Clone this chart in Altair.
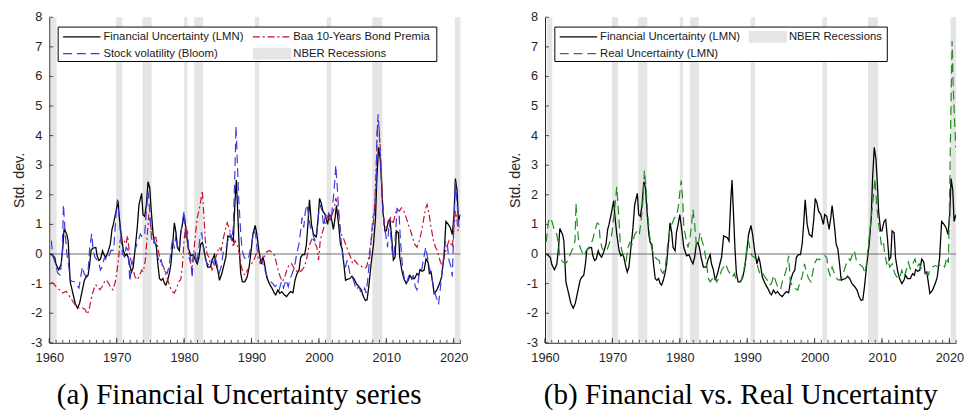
import altair as alt
import pandas as pd

fu_year = [1960.17, 1960.5, 1960.8, 1961.0, 1961.4, 1961.75, 1962.0, 1962.2, 1962.6, 1962.8,
           1963.1, 1963.5, 1963.85, 1964.2, 1964.5, 1964.8, 1965.2, 1965.4, 1965.75, 1966.0,
           1966.2, 1966.5, 1966.9, 1967.1, 1967.35, 1967.6, 1967.9, 1968.1, 1968.4, 1968.7,
           1969.05, 1969.3, 1969.5, 1969.9, 1970.2, 1970.35, 1970.65, 1971.0, 1971.25, 1971.5,
           1971.7, 1971.95, 1972.2, 1972.45, 1972.7, 1973.05, 1973.3, 1973.7, 1973.9, 1974.15,
           1974.4, 1974.65, 1974.9, 1975.1, 1975.4, 1975.6, 1975.85, 1976.1, 1976.35, 1976.6,
           1976.85, 1977.1, 1977.3, 1977.55, 1977.8, 1978.05, 1978.3, 1978.55, 1978.8, 1979.0,
           1979.3, 1979.5, 1979.75, 1980.0, 1980.25, 1980.6, 1981.0, 1981.35, 1981.7, 1981.95,
           1982.2, 1982.45, 1982.7, 1982.9, 1983.15, 1983.5, 1983.9, 1984.15, 1984.5, 1984.7,
           1985.0, 1985.25, 1985.6, 1985.95, 1986.2, 1986.5, 1986.8, 1987.05, 1987.3, 1987.55,
           1987.75, 1987.95, 1988.2, 1988.4, 1988.65, 1989.0, 1989.35, 1989.65, 1990.0, 1990.2,
           1990.55, 1990.8, 1991.1, 1991.45, 1991.7, 1991.9, 1992.25, 1992.65, 1993.05, 1993.4,
           1993.6, 1993.9, 1994.2, 1994.5, 1994.85, 1995.2, 1995.5, 1995.8, 1996.15, 1996.45,
           1996.75, 1997.05, 1997.3, 1997.6, 1997.9, 1998.15, 1998.4, 1998.6, 1998.9, 1999.2,
           1999.6, 1999.85, 2000.1, 2000.35, 2000.6, 2000.9, 2001.3, 2001.5, 2001.8, 2002.15,
           2002.4, 2002.6, 2002.95, 2003.2, 2003.45, 2003.7, 2003.95, 2004.2, 2004.6, 2004.9,
           2005.2, 2005.55, 2005.9, 2006.3, 2006.6, 2006.9, 2007.15, 2007.4, 2007.75, 2008.1,
           2008.4, 2008.6, 2008.85, 2009.1, 2009.3, 2009.5, 2009.8, 2010.0, 2010.3, 2010.55,
           2010.8, 2011.05, 2011.3, 2011.5, 2011.8, 2012.0, 2012.3, 2012.6, 2012.95, 2013.25,
           2013.5, 2013.8, 2014.2, 2014.55, 2014.8, 2015.0, 2015.3, 2015.6, 2015.9, 2016.2,
           2016.4, 2016.65, 2016.9, 2017.1, 2017.5, 2017.9, 2018.2, 2018.55, 2018.85, 2019.2,
           2019.5, 2019.8, 2020.05, 2020.25, 2020.5, 2020.7, 2020.9, 2021.0]
fu_val = [0.0, -0.05, -0.12, -0.35, -0.53, -0.35, 0.2, 0.86, 0.66, 0.44,
          -0.94, -1.33, -1.68, -1.83, -1.66, -1.33, -0.89, -0.8, -0.72, -0.33,
          0.13, 0.2, 0.22, -0.06, -0.22, -0.17, 0.11, -0.02, -0.11, 0.06,
          0.33, 0.83, 1.0, 1.44, 1.8, 1.33, 0.66, 0.11, -0.06, 0.0,
          -0.11, -0.39, -0.61, -0.44, 0.11, 0.89, 1.66, 2.05, 1.33, 1.27,
          1.66, 2.44, 2.24, 1.55, 0.66, 0.39, 0.33, -0.33, -0.83, -0.89,
          -0.83, -1.0, -1.05, -0.89, -0.66, -0.33, 0.33, 1.05, 0.72, 0.22,
          0.11, 0.72, 1.0, 1.33, 0.89, 0.22, -0.06, -0.02, -0.22, -0.33,
          -0.11, 0.33, 0.39, 0.22, -0.11, -0.44, -0.44, -0.22, -0.02, -0.33,
          -0.55, -0.89, -0.66, -0.33, -0.11, 0.61, 0.58, 0.55, 0.44, 1.77,
          2.5, 1.44, 0.11, -0.66, -0.94, -0.94, -0.78, -0.44, 0.22, 0.66,
          0.97, 0.66, 0.11, -0.33, -0.11, -0.28, -0.78, -1.0, -1.16, -1.33,
          -1.38, -1.22, -1.33, -1.27, -1.38, -1.44, -1.35, -1.27, -1.31, -0.89,
          -0.66, -0.55, -0.11, -0.02, -0.02, 0.33, 1.1, 1.83, 1.0, 0.66,
          0.58, 1.1, 1.88, 1.72, 1.44, 1.35, 1.0, 1.33, 1.27, 0.83,
          1.22, 1.64, 0.94, 0.33, 0.17, -0.33, -0.89, -0.86, -0.83, -0.75,
          -0.83, -1.0, -1.09, -1.22, -1.44, -1.57, -1.55, -1.11, -0.33, 0.33,
          1.22, 2.55, 3.6, 3.21, 2.44, 1.44, 0.78, 0.78, 1.1, 1.16,
          0.55, -0.2, -0.11, 0.78, 0.72, -0.11, -0.55, -0.83, -1.0, -0.89,
          -0.72, -0.83, -0.83, -0.66, -0.72, -0.53, -0.58, -0.55, -0.17, -0.28,
          -0.66, -0.61, -1.0, -1.33, -1.22, -1.0, -0.78, -0.11, 1.1, 1.0,
          0.89, 0.66, 1.33, 2.55, 2.16, 1.1, 1.27, 1.33]

ru_year = [1960.17, 1960.5, 1960.8, 1961.1, 1961.4, 1961.75, 1962.0, 1962.2, 1962.5, 1962.7,
           1963.1, 1963.45, 1963.85, 1964.2, 1964.45, 1964.6, 1964.8, 1965.05, 1965.4, 1965.8,
           1966.1, 1966.5, 1966.85, 1967.15, 1967.45, 1967.75, 1968.0, 1968.2, 1968.45, 1968.8,
           1969.15, 1969.5, 1969.9, 1970.3, 1970.65, 1970.9, 1971.15, 1971.4, 1971.7, 1972.05,
           1972.3, 1972.6, 1972.95, 1973.3, 1973.7, 1974.0, 1974.3, 1974.55, 1974.75, 1975.0,
           1975.25, 1975.5, 1975.8, 1976.1, 1976.35, 1976.6, 1976.95, 1977.2, 1977.5, 1977.7,
           1977.9, 1978.15, 1978.45, 1978.8, 1979.2, 1979.5, 1979.75, 1980.2, 1980.45, 1980.6,
           1980.9, 1981.2, 1981.45, 1981.7, 1981.95, 1982.2, 1982.45, 1982.7, 1983.0, 1983.3,
           1983.6, 1983.9, 1984.25, 1984.5, 1984.85, 1985.2, 1985.5, 1985.85, 1986.2, 1986.5,
           1986.8, 1987.15, 1987.45, 1987.8, 1988.1, 1988.4, 1988.75, 1989.1, 1989.4, 1989.75,
           1990.0, 1990.2, 1990.45, 1990.7, 1991.05, 1991.35, 1991.7, 1992.0, 1992.3, 1992.65,
           1993.0, 1993.3, 1993.6, 1993.95, 1994.25, 1994.6, 1994.95, 1995.25, 1995.55, 1995.9,
           1996.15, 1996.4, 1996.8, 1997.1, 1997.5, 1997.85, 1998.15, 1998.5, 1998.85, 1999.1,
           1999.45, 1999.7, 1999.95, 2000.35, 2000.7, 2001.2, 2001.5, 2001.8, 2002.05, 2002.3,
           2002.6, 2002.95, 2003.3, 2003.6, 2003.95, 2004.3, 2004.7, 2005.1, 2005.3, 2005.65,
           2005.9, 2006.2, 2006.5, 2006.9, 2007.15, 2007.5, 2007.75, 2008.0, 2008.25, 2008.5,
           2008.7, 2008.95, 2009.2, 2009.45, 2009.7, 2009.9, 2010.2, 2010.4, 2010.7, 2010.9,
           2011.15, 2011.5, 2011.9, 2012.2, 2012.6, 2012.95, 2013.25, 2013.6, 2013.9, 2014.2,
           2014.55, 2014.9, 2015.2, 2015.5, 2015.85, 2016.2, 2016.5, 2016.85, 2017.1, 2017.5,
           2017.9, 2018.2, 2018.55, 2018.9, 2019.3, 2019.6, 2019.85, 2020.0, 2020.2, 2020.4,
           2020.55, 2020.75, 2020.95]
ru_val = [0.4, 1.1, 1.22, 1.05, 0.78, 0.66, 0.33, -0.11, -0.22, -0.28,
          -0.31, -0.2, 0.06, 0.22, 0.44, 1.72, 0.89, 0.33, 0.11, -0.06,
          0.11, 0.22, 0.33, 0.55, 0.83, 1.05, 1.0, 0.44, 0.22, 0.06,
          0.11, 0.33, 0.66, 1.44, 2.27, 1.44, 0.44, 0.11, -0.11, -0.22,
          0.22, 0.39, 0.33, 0.66, 0.78, 0.66, 1.22, 1.88, 2.82, 2.21,
          1.33, 0.66, 0.22, 0.0, -0.11, -0.17, -0.22, -0.55, -0.66, -0.55,
          -0.33, 0.22, 0.72, 1.0, 1.22, 1.27, 1.55, 2.48, 1.77, 0.89,
          0.55, 0.22, 0.44, 0.89, 1.5, 1.0, 0.33, 0.28, 0.72, 0.44,
          0.22, -0.22, -0.83, -0.94, -0.83, -0.72, -0.94, -0.78, -0.55, -0.44,
          -0.33, -0.55, -0.66, -0.78, -0.66, -0.89, -0.94, -0.89, -0.66, -0.22,
          0.33, 0.44, 0.11, -0.06, -0.11, -0.22, -0.55, -0.72, -0.66, -0.78,
          -0.89, -1.05, -1.0, -0.72, -0.94, -1.15, -1.2, -0.9, -0.72, -0.44,
          -0.06, -0.94, -1.11, -1.16, -1.22, -0.94, -0.78, -0.33, -0.66, -0.83,
          -0.94, -0.66, -0.33, -0.17, -0.2, -0.09, -0.06, -0.11, -0.55, -0.72,
          -0.44, -0.66, -0.83, -0.89, -0.83, -0.61, -0.33, -0.17, -0.22, 0.0,
          0.11, -0.22, -0.33, -0.39, -0.44, -0.66, -0.22, 0.33, 0.89, 1.44,
          1.88, 2.55, 1.66, 1.1, 0.66, 0.33, 0.44, 0.0, -0.33, -0.22,
          -0.44, -0.33, -0.66, -0.78, -0.83, -0.55, -0.78, -0.55, -0.28, -0.5,
          -0.33, -0.17, -0.44, -0.33, -0.5, -0.55, -0.66, -0.72, -0.55, -0.44,
          -0.39, -0.42, -0.39, -0.33, -0.44, -0.11, -0.3, 1.5, 4.5, 7.2,
          5.8, 4.6, 3.6]

sv_year = [1960.3, 1960.5, 1960.9, 1961.25, 1961.6, 1961.9, 1962.1, 1962.3, 1962.6, 1962.9,
           1963.1, 1963.35, 1963.7, 1964.05, 1964.4, 1964.7, 1964.9, 1965.15, 1965.4, 1965.75,
           1966.0, 1966.3, 1966.5, 1966.75, 1967.1, 1967.35, 1967.6, 1967.85, 1968.2, 1968.45,
           1968.8, 1969.15, 1969.55, 1969.9, 1970.1, 1970.4, 1970.65, 1970.85, 1971.15, 1971.4,
           1971.7, 1971.95, 1972.2, 1972.55, 1972.85, 1973.2, 1973.5, 1973.8, 1974.15, 1974.4,
           1974.65, 1974.9, 1975.15, 1975.4, 1975.6, 1975.85, 1976.1, 1976.35, 1976.6, 1976.85,
           1977.2, 1977.5, 1977.8, 1978.05, 1978.3, 1978.55, 1978.8, 1979.0, 1979.3, 1979.5,
           1979.75, 1980.0, 1980.25, 1980.5, 1980.7, 1981.0, 1981.2, 1981.35, 1981.6, 1981.85,
           1982.1, 1982.35, 1982.6, 1982.8, 1983.05, 1983.4, 1983.75, 1984.05, 1984.4, 1984.6,
           1984.85, 1985.2, 1985.5, 1985.85, 1986.2, 1986.5, 1986.8, 1987.05, 1987.3, 1987.55,
           1987.7, 1987.9, 1988.1, 1988.35, 1988.6, 1988.9, 1989.25, 1989.6, 1989.9, 1990.1,
           1990.35, 1990.6, 1990.85, 1991.2, 1991.55, 1991.8, 1992.15, 1992.5, 1992.8, 1993.15,
           1993.5, 1993.75, 1994.1, 1994.45, 1994.75, 1995.1, 1995.45, 1995.7, 1996.05, 1996.4,
           1996.7, 1997.05, 1997.3, 1997.5, 1997.75, 1998.0, 1998.25, 1998.5, 1998.75, 1999.1,
           1999.4, 1999.7, 1999.95, 2000.2, 2000.45, 2000.7, 2000.95, 2001.2, 2001.4, 2001.65,
           2001.9, 2002.1, 2002.4, 2002.5, 2002.7, 2002.95, 2003.2, 2003.45, 2003.7, 2003.95,
           2004.2, 2004.6, 2004.9, 2005.2, 2005.55, 2005.9, 2006.2, 2006.5, 2006.8, 2007.0,
           2007.25, 2007.5, 2007.75, 2008.0, 2008.2, 2008.5, 2008.6, 2008.8, 2009.0, 2009.2,
           2009.4, 2009.7, 2009.9, 2010.2, 2010.4, 2010.65, 2010.9, 2011.15, 2011.4, 2011.6,
           2011.9, 2012.1, 2012.4, 2012.7, 2013.0, 2013.3, 2013.7, 2014.0, 2014.3, 2014.55,
           2014.9, 2015.2, 2015.5, 2015.85, 2016.1, 2016.35, 2016.65, 2017.0, 2017.2, 2017.55,
           2017.75, 2018.05, 2018.3, 2018.55, 2018.8, 2019.05, 2019.3, 2019.6, 2019.8, 2020.05,
           2020.25, 2020.4, 2020.6, 2020.8]
sv_val = [0.45, -0.04, -0.32, -0.65, -0.71, -0.1, 1.67, 0.9, 0.01, -0.43,
          -0.87, -0.93, -0.93, -1.04, -1.15, -0.71, -0.43, -0.65, -0.76, -0.6,
          0.23, 0.68, 0.12, -0.1, -0.21, -0.32, -0.54, -0.43, -0.1, -0.21,
          -0.1, 0.12, 0.12, 1.34, 1.84, 1.12, 0.45, 0.01, -0.1, 0.23,
          0.12, -0.93, -0.43, -0.1, 0.23, 0.45, 0.68, 0.56, 0.68, 1.45,
          2.12, 1.45, 0.56, 0.34, 0.45, 0.23, -0.1, -0.32, -0.21, -0.43,
          -0.6, -0.65, -0.38, 0.12, 0.51, 0.18, 0.68, 0.29, 0.12, 0.68,
          1.12, 1.45, 0.5, 0.79, 0.12, -0.21, -0.82, -0.1, 0.12, -0.32,
          0.01, 0.56, 0.73, 0.34, -0.1, -0.32, -0.38, -0.21, -0.32, -0.1,
          -0.32, -0.65, -0.43, 0.12, 0.18, 0.45, 0.68, 0.45, 0.9, 2.89,
          4.33, 3.11, 1.89, 0.9, 0.12, -0.1, -0.21, -0.1, 0.23, 0.45,
          0.79, 0.68, 0.12, -0.1, -0.21, -0.43, -0.65, -0.87, -0.93, -0.99,
          -1.1, -1.04, -1.21, -0.93, -1.15, -0.87, -1.1, -0.87, -0.65, -0.43,
          0.01, 0.34, 0.79, 1.23, 0.9, 1.45, 1.67, 1.23, 0.9, 0.68,
          0.45, 0.68, 1.34, 1.67, 1.45, 0.95, 1.28, 1.34, 1.45, 1.12,
          1.34, 1.78, 2.56, 3.0, 2.34, 1.45, 0.68, 0.12, -0.32, -0.43,
          -0.21, -0.65, -0.76, -0.93, -1.21, -1.1, -1.26, -1.32, -1.15, -1.32,
          -0.87, -0.21, 0.45, 1.23, 1.34, 2.34, 4.0, 4.72, 3.89, 2.89,
          1.78, 0.9, 0.68, 0.23, 1.12, 0.68, 0.01, -0.1, 0.79, 1.56,
          1.34, 0.45, -0.43, -0.87, -0.99, -0.76, -0.93, -0.71, -1.1, -1.21,
          -0.65, -0.6, -0.21, 0.23, -0.1, -0.43, -0.65, -1.1, -1.32, -1.54,
          -1.71, -1.1, -0.54, 0.01, 0.45, 0.34, -0.21, -0.43, -0.76, 1.12,
          2.45, 2.0, 1.45, 0.9]

baa_year = [1960.3, 1960.6, 1961.0, 1961.5, 1962.0, 1962.5, 1963.0, 1963.45, 1963.95, 1964.4,
            1964.9, 1965.3, 1965.65, 1965.9, 1966.2, 1966.5, 1966.85, 1967.2, 1967.5, 1967.85,
            1968.2, 1968.45, 1968.8, 1969.15, 1969.45, 1969.8, 1970.0, 1970.3, 1970.5, 1970.75,
            1971.1, 1971.4, 1971.6, 1971.85, 1972.1, 1972.35, 1972.7, 1973.05, 1973.35, 1973.7,
            1973.95, 1974.25, 1974.55, 1974.75, 1975.0, 1975.25, 1975.5, 1975.8, 1976.1, 1976.35,
            1976.6, 1976.95, 1977.25, 1977.55, 1977.9, 1978.2, 1978.55, 1978.9, 1979.2, 1979.5,
            1979.75, 1980.0, 1980.25, 1980.5, 1980.7, 1981.0, 1981.2, 1981.45, 1981.7, 1981.95,
            1982.2, 1982.45, 1982.7, 1982.9, 1983.15, 1983.4, 1983.65, 1983.9, 1984.15, 1984.4,
            1984.6, 1984.85, 1985.2, 1985.5, 1985.85, 1986.2, 1986.4, 1986.65, 1986.95, 1987.3,
            1987.55, 1987.8, 1988.0, 1988.3, 1988.5, 1988.75, 1989.1, 1989.4, 1989.75, 1990.05,
            1990.35, 1990.7, 1990.95, 1991.3, 1991.6, 1991.9, 1992.25, 1992.65, 1993.0, 1993.3,
            1993.6, 1993.95, 1994.25, 1994.6, 1994.95, 1995.25, 1995.55, 1995.9, 1996.2, 1996.55,
            1996.9, 1997.2, 1997.5, 1997.85, 1998.15, 1998.5, 1998.85, 1999.1, 1999.45, 1999.7,
            1999.95, 2000.2, 2000.45, 2000.75, 2001.0, 2001.3, 2001.65, 2002.0, 2002.3, 2002.5,
            2002.8, 2003.0, 2003.3, 2003.6, 2003.95, 2004.3, 2004.7, 2005.0, 2005.3, 2005.65,
            2006.0, 2006.4, 2006.8, 2007.1, 2007.4, 2007.75, 2008.0, 2008.2, 2008.5, 2008.7,
            2008.95, 2009.2, 2009.45, 2009.7, 2010.0, 2010.3, 2010.65, 2011.0, 2011.3, 2011.6,
            2011.95, 2012.25, 2012.6, 2012.95, 2013.25, 2013.6, 2013.9, 2014.2, 2014.55, 2014.9,
            2015.2, 2015.5, 2015.85, 2016.05, 2016.35, 2016.65, 2017.0, 2017.3, 2017.6, 2017.95,
            2018.3, 2018.6, 2018.95, 2019.3, 2019.6, 2019.8, 2020.05, 2020.25, 2020.45, 2020.65,
            2020.85]
baa_val = [-0.96, -0.99, -1.1, -1.21, -1.32, -1.26, -1.43, -1.59, -1.76, -1.82,
           -1.82, -1.87, -2.04, -1.87, -1.54, -1.26, -1.04, -1.1, -1.21, -1.1,
           -0.93, -0.87, -0.99, -1.15, -1.21, -0.93, -0.65, -0.1, 0.45, 0.56,
           0.45, 0.34, 0.62, 0.12, -0.21, -0.43, -0.76, -0.87, -0.76, -0.54,
           -0.6, -0.21, 0.68, 1.34, 1.01, 0.68, 0.56, 0.56, 0.23, -0.1,
           -0.32, -0.43, -0.65, -0.87, -1.1, -1.26, -1.32, -1.15, -0.93, -0.87,
           -0.43, 0.5, 0.95, 0.5, -0.1, -0.32, -0.43, 0.12, 0.68, 1.23,
           1.45, 1.78, 2.14, 1.45, 0.45, 0.01, -0.1, -0.32, -0.54, -0.43,
           -0.21, 0.01, 0.23, 0.12, 0.56, 0.9, 1.06, 0.9, 0.68, 0.23,
           0.45, 0.34, 0.23, -0.1, -0.43, -0.65, -0.71, -0.54, -0.43, -0.32,
           -0.21, 0.01, -0.1, -0.32, -0.21, -0.1, 0.07, 0.12, 0.07, 0.01,
           -0.21, -0.54, -0.76, -0.93, -0.76, -0.54, -0.38, -0.32, -0.43, -0.6,
           -0.54, -0.6, -0.54, -0.43, -0.21, 0.23, 0.45, 0.56, 0.34, 0.23,
           -0.21, 0.45, 0.68, 0.9, 1.1, 1.28, 1.12, 1.34, 1.56, 1.89,
           1.67, 1.12, 0.68, 0.56, 0.34, 0.12, -0.1, -0.32, -0.21, -0.32,
           -0.38, -0.43, -0.49, -0.43, -0.1, 0.45, 0.9, 1.34, 2.89, 4.33,
           4.22, 3.11, 1.78, 1.01, 0.9, 1.12, 1.23, 1.01, 1.34, 1.51,
           1.45, 1.56, 1.45, 1.23, 1.01, 0.79, 0.56, 0.34, 0.23, 0.45,
           0.73, 1.12, 1.56, 1.67, 1.34, 0.9, 0.45, 0.23, 0.12, -0.21,
           -0.43, -0.1, 0.23, 0.45, 0.34, 0.23, 0.9, 1.45, 1.23, 0.79,
           0.68]

rec_start = [1960.25, 1969.92, 1973.83, 1980.0, 1981.5, 1990.5, 2001.17, 2007.92, 2020.17]
rec_end = [1961.08, 1970.83, 1975.17, 1980.5, 1982.83, 1991.17, 2001.83, 2009.42, 2021.0]

x_labels = [1960, 1970, 1980, 1990, 2000, 2010, 2020]
y_labels = [-3, -2, -1, 0, 1, 2, 3, 4, 5, 6, 7, 8]
minor_years = list(range(1960, 2022))

# ---- styling ----
W, H = 418, 331
SANS = "Liberation Sans"
SERIF = "Liberation Serif"
AXIS_COLOR = "#262626"
REC_COLOR = "#e5e5e5"
BLACK = "#000000"
BLUE = "#3a3ae0"
RED = "#c8102e"
GREEN = "#1c8c1c"
DASH = [9, 5]
DASH_DOT = [7, 3, 2, 3]

XS = alt.Scale(domain=[1960, 2021], nice=False, zero=False)
YS = alt.Scale(domain=[-3, 8], nice=False, zero=False)
# plain hyphen-minus labels, as in the original figure
PLAIN = "'' + datum.value"
XA = alt.Axis(values=x_labels, labelExpr=PLAIN, title=None, grid=False, ticks=False,
              labelFlush=False, labelOverlap=False, labelPadding=9,
              domainColor=AXIS_COLOR, labelColor=AXIS_COLOR, labelFont=SANS, labelFontSize=13)
# y tick labels are drawn as a text layer below, so the axis carries line + title only
YA = alt.Axis(values=y_labels, labels=False, title="Std. dev.", grid=False, ticks=False,
              titlePadding=23, domainColor=AXIS_COLOR,
              titleFont=SANS, titleFontSize=14.5, titleFontWeight="normal", titleColor=AXIS_COLOR)


def xq(field):
    return alt.X(field, scale=XS, axis=XA)


def yq(field):
    return alt.Y(field, scale=YS, axis=YA)


rec_df = pd.DataFrame({"start": rec_start, "end": rec_end})
ytick_df = pd.DataFrame({"v": y_labels, "lab": [str(v) for v in y_labels]})
one = pd.DataFrame({"k": [0]})


def series_line(years, values, color, dash=None, width=1.3):
    d = pd.DataFrame({"year": years, "value": values})
    kw = dict(color=color, strokeWidth=width, clip=True)
    if dash:
        kw["strokeDash"] = dash
    return alt.Chart(d).mark_line(**kw).encode(x=xq("year:Q"), y=yq("value:Q"))


def frame_layers():
    rec = alt.Chart(rec_df).mark_rect(color=REC_COLOR).encode(
        x=xq("start:Q"), x2="end:Q", y=alt.value(0), y2=alt.value(H))
    zero = alt.Chart(one).mark_rule(color="#6e6e6e", strokeWidth=1.2).encode(
        y=alt.Y(datum=0, scale=YS, axis=YA))
    minor = alt.Chart(pd.DataFrame({"yr": minor_years})).mark_rule(
        color=AXIS_COLOR, strokeWidth=0.8).encode(
        x=xq("yr:Q"), y=alt.value(H), y2=alt.value(H - 3))
    major = alt.Chart(pd.DataFrame({"yr": x_labels})).mark_rule(
        color=AXIS_COLOR, strokeWidth=0.8).encode(
        x=xq("yr:Q"), y=alt.value(H), y2=alt.value(H - 5))
    yt = alt.Chart(ytick_df).mark_rule(
        color=AXIS_COLOR, strokeWidth=0.8).encode(
        y=yq("v:Q"), x=alt.value(0), x2=alt.value(4))
    ylab = alt.Chart(ytick_df).mark_text(
        align="right", baseline="middle", font=SANS, fontSize=13, color=AXIS_COLOR).encode(
        y=yq("v:Q"), x=alt.value(-7), text="lab:N")
    return [rec, zero, minor, major, yt, ylab]


def legend_layers(box, entries):
    x0, x1, y0, y1 = box
    out = [alt.Chart(one).mark_rect(fill="white", stroke="black", strokeWidth=1).encode(
        x=alt.value(x0), x2=alt.value(x1), y=alt.value(y0), y2=alt.value(y1))]
    for label, kind, color, dash, sx, ty in entries:
        if kind == "patch":
            out.append(alt.Chart(one).mark_rect(color=REC_COLOR).encode(
                x=alt.value(sx), x2=alt.value(sx + 39), y=alt.value(ty - 6), y2=alt.value(ty + 6)))
        else:
            kw = dict(color=color, strokeWidth=1.3)
            if dash:
                kw["strokeDash"] = dash
            out.append(alt.Chart(one).mark_rule(**kw).encode(
                x=alt.value(sx), x2=alt.value(sx + 38), y=alt.value(ty)))
        out.append(alt.Chart(one).mark_text(
            text=label, align="left", baseline="middle", font=SANS, fontSize=11.5,
            color="#1a1a1a").encode(x=alt.value(sx + 41), y=alt.value(ty)))
    return out


def caption(text, dx):
    return alt.TitleParams(text, orient="bottom", anchor="middle", font=SERIF,
                           fontSize=29.5, fontWeight="normal", color="black",
                           offset=17, dx=dx)


# ---- panel (a) ----
lines_a = [
    series_line(fu_year, fu_val, BLACK),
    series_line(baa_year, baa_val, RED, DASH_DOT, 1.2),
    series_line(sv_year, sv_val, BLUE, DASH, 1.2),
]
leg_a = legend_layers((9, 394, 10, 45), [
    ("Financial Uncertainty (LMN)", "line", BLACK, None, 14, 20),
    ("Stock volatility (Bloom)", "line", BLUE, DASH, 14, 37),
    ("Baa 10-Years Bond Premia", "line", RED, DASH_DOT, 207, 20),
    ("NBER Recessions", "patch", None, None, 207, 37),
])
panel_a = alt.layer(*frame_layers(), *lines_a, *leg_a).properties(
    width=W, height=H, title=caption("(a) Financial Uncertainty series", -16))

# ---- panel (b) ----
lines_b = [
    series_line(fu_year, fu_val, BLACK),
    series_line(ru_year, ru_val, GREEN, DASH, 1.2),
]
leg_b = legend_layers((10, 348, 10, 45), [
    ("Financial Uncertainty (LMN)", "line", BLACK, None, 15, 20),
    ("Real Uncertainty (LMN)", "line", GREEN, DASH, 15, 37),
    ("NBER Recessions", "patch", None, None, 207, 20),
])
panel_b = alt.layer(*frame_layers(), *lines_b, *leg_b).properties(
    width=W, height=H, title=caption("(b) Financial vs. Real Uncertainty", -10))

chart = (
    alt.hconcat(panel_a, panel_b, spacing=40)
    .properties(padding={"left": 4, "top": 0, "right": 0, "bottom": 0}, background="white")
    .configure_view(stroke=None)
)

chart.save("out.html", embed_options={"renderer": "svg", "actions": False})
